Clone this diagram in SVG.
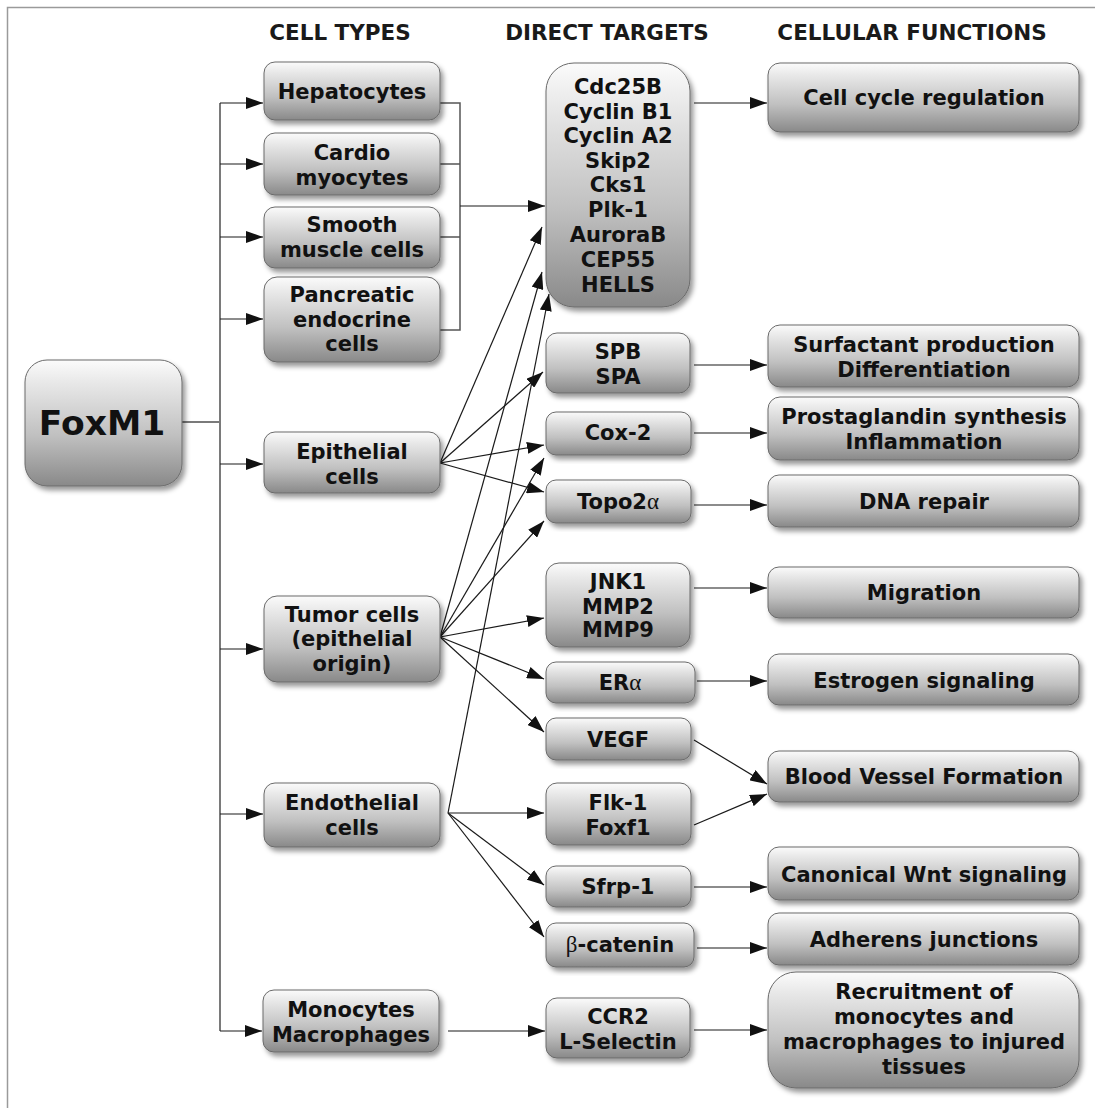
<svg xmlns="http://www.w3.org/2000/svg" width="1095" height="1108" viewBox="0 0 1095 1108">
<defs>
<linearGradient id="g" x1="0" y1="0" x2="0" y2="1">
<stop offset="0" stop-color="#fbfbfb"/>
<stop offset="0.18" stop-color="#e8e8e8"/>
<stop offset="0.6" stop-color="#c0c0c0"/>
<stop offset="1" stop-color="#898989"/>
</linearGradient>
<filter id="sh" x="-10%" y="-10%" width="125%" height="130%">
<feDropShadow dx="3" dy="4" stdDeviation="2.5" flood-color="#000" flood-opacity="0.4"/>
</filter>
<marker id="ah" markerWidth="17" markerHeight="12" refX="17" refY="6" orient="auto" markerUnits="userSpaceOnUse">
<path d="M0,0 L17,6 L0,12 z" fill="#111"/>
</marker>
</defs>
<style>
.n{fill:url(#g);stroke:#6a6a6a;stroke-width:1;filter:url(#sh)}
.t{font-family:"DejaVu Sans","Verdana",sans-serif;font-weight:bold;font-size:21px;fill:#111;text-anchor:middle}
.h{font-family:"DejaVu Sans","Verdana",sans-serif;font-weight:bold;font-size:21.5px;fill:#1a1a1a;text-anchor:middle}
.gr{font-family:"Liberation Serif",serif;font-weight:normal}
.c{stroke:#1a1a1a;stroke-width:1.2;fill:none;marker-end:url(#ah)}
.tr{stroke:#7a7a7a;stroke-width:2;fill:none}
.br{stroke:#555;stroke-width:1.5;fill:none}
</style>
<rect width="1095" height="1108" fill="#fff"/>
<path d="M7.5,1108 V7.5 H1095" fill="none" stroke="#9a9a9a" stroke-width="1.5"/>

<text class="h" x="340" y="40">CELL TYPES</text>
<text class="h" x="607" y="40">DIRECT TARGETS</text>
<text class="h" x="912" y="40">CELLULAR FUNCTIONS</text>

<g id="connectors">
<path class="tr" d="M182,422 H220 M220,103 V1031"/>
<path class="c" d="M220,103 H263"/>
<path class="c" d="M220,164 H263"/>
<path class="c" d="M220,237 H263"/>
<path class="c" d="M220,319 H263"/>
<path class="c" d="M220,464 H263"/>
<path class="c" d="M220,649 H263"/>
<path class="c" d="M220,814 H263"/>
<path class="c" d="M220,1031 H262"/>
<path class="br" d="M440,103 H460 V330 H440 M440,164 H460 M440,237 H460"/>
<path class="c" d="M460,206 H545"/>
<path class="c" d="M440,463 L542,227"/>
<path class="c" d="M440,463 L543,372"/>
<path class="c" d="M440,463 L544,445"/>
<path class="c" d="M440,463 L544,492"/>
<path class="c" d="M440,637 L542,272"/>
<path class="c" d="M440,637 L544,458"/>
<path class="c" d="M440,637 L544,521"/>
<path class="c" d="M440,637 L544,618"/>
<path class="c" d="M440,637 L544,679"/>
<path class="c" d="M440,637 L544,732"/>
<path class="c" d="M448,813 L549,294"/>
<path class="c" d="M448,813 L544,813"/>
<path class="c" d="M448,813 L544,885"/>
<path class="c" d="M448,813 L544,937"/>
<path class="c" d="M448,1031 H545"/>
<path class="c" d="M694,103 H767"/>
<path class="c" d="M694,365 H767"/>
<path class="c" d="M694,433 H767"/>
<path class="c" d="M694,505 H767"/>
<path class="c" d="M694,588 H767"/>
<path class="c" d="M697,681 H767"/>
<path class="c" d="M694,740 L767,784"/>
<path class="c" d="M694,825 L767,794"/>
<path class="c" d="M694,887 H767"/>
<path class="c" d="M697,948 H767"/>
<path class="c" d="M694,1030 H767"/>
</g>

<g id="foxm1"><rect class="n" x="25" y="360" width="157" height="126" rx="22"/><text class="t" x="102" y="435" style="font-size:34.5px">FoxM1</text></g>

<g id="hepatocytes"><rect class="n" x="264" y="62" width="176" height="58" rx="11"/><text class="t" x="352" y="99">Hepatocytes</text></g>
<g id="cardiomyocytes"><rect class="n" x="264" y="133" width="176" height="62" rx="11"/><text class="t" x="352" y="160">Cardio</text><text class="t" x="352" y="185">myocytes</text></g>
<g id="smooth"><rect class="n" x="264" y="207" width="176" height="61" rx="11"/><text class="t" x="352" y="232">Smooth</text><text class="t" x="352" y="257">muscle cells</text></g>
<g id="pancreatic"><rect class="n" x="264" y="277" width="176" height="85" rx="13"/><text class="t" x="352" y="302">Pancreatic</text><text class="t" x="352" y="327">endocrine</text><text class="t" x="352" y="351">cells</text></g>
<g id="epithelial"><rect class="n" x="264" y="432" width="176" height="61" rx="11"/><text class="t" x="352" y="459">Epithelial</text><text class="t" x="352" y="484">cells</text></g>
<g id="tumor"><rect class="n" x="264" y="596" width="176" height="86" rx="13"/><text class="t" x="352" y="622">Tumor cells</text><text class="t" x="352" y="646">(epithelial</text><text class="t" x="352" y="671">origin)</text></g>
<g id="endothelial"><rect class="n" x="264" y="783" width="176" height="64" rx="11"/><text class="t" x="352" y="810">Endothelial</text><text class="t" x="352" y="835">cells</text></g>
<g id="monocytes"><rect class="n" x="263" y="990" width="176" height="62" rx="11"/><text class="t" x="351" y="1017">Monocytes</text><text class="t" x="351" y="1042">Macrophages</text></g>

<g id="cdc"><rect class="n" x="546" y="63" width="144" height="244" rx="28"/>
<text class="t" x="618" y="94">Cdc25B</text><text class="t" x="618" y="119">Cyclin B1</text><text class="t" x="618" y="143">Cyclin A2</text><text class="t" x="618" y="168">Skip2</text><text class="t" x="618" y="192">Cks1</text><text class="t" x="618" y="217">Plk-1</text><text class="t" x="618" y="242">AuroraB</text><text class="t" x="618" y="267">CEP55</text><text class="t" x="618" y="292">HELLS</text></g>
<g id="spb"><rect class="n" x="546" y="333" width="144" height="60" rx="11"/><text class="t" x="618" y="359">SPB</text><text class="t" x="618" y="384">SPA</text></g>
<g id="cox2"><rect class="n" x="546" y="412" width="145" height="43" rx="10"/><text class="t" x="618" y="440">Cox-2</text></g>
<g id="topo"><rect class="n" x="546" y="480" width="145" height="43" rx="10"/><text class="t" x="618" y="509">Topo2<tspan class="gr" style="font-size:23px">α</tspan></text></g>
<g id="jnk1"><rect class="n" x="546" y="563" width="144" height="84" rx="13"/><text class="t" x="618" y="589">JNK1</text><text class="t" x="618" y="614">MMP2</text><text class="t" x="618" y="637">MMP9</text></g>
<g id="era"><rect class="n" x="546" y="662" width="149" height="41" rx="10"/><text class="t" x="620" y="690">ER<tspan class="gr" style="font-size:23px">α</tspan></text></g>
<g id="vegf"><rect class="n" x="546" y="718" width="145" height="42" rx="10"/><text class="t" x="618" y="747">VEGF</text></g>
<g id="flk1"><rect class="n" x="546" y="783" width="145" height="62" rx="11"/><text class="t" x="618" y="810">Flk-1</text><text class="t" x="618" y="835">Foxf1</text></g>
<g id="sfrp1"><rect class="n" x="546" y="866" width="145" height="41" rx="10"/><text class="t" x="618" y="894">Sfrp-1</text></g>
<g id="bcat"><rect class="n" x="546" y="923" width="148" height="44" rx="10"/><text class="t" x="620" y="952"><tspan class="gr" style="font-size:23px">β</tspan>-catenin</text></g>
<g id="ccr2"><rect class="n" x="546" y="998" width="144" height="60" rx="11"/><text class="t" x="618" y="1024">CCR2</text><text class="t" x="618" y="1049">L-Selectin</text></g>

<g id="cellcycle"><rect class="n" x="768" y="63" width="311" height="69" rx="12"/><text class="t" x="924" y="105">Cell cycle regulation</text></g>
<g id="surfactant"><rect class="n" x="768" y="325" width="311" height="62" rx="12"/><text class="t" x="924" y="352">Surfactant production</text><text class="t" x="924" y="377">Differentiation</text></g>
<g id="prostaglandin"><rect class="n" x="768" y="397" width="311" height="63" rx="12"/><text class="t" x="924" y="424">Prostaglandin synthesis</text><text class="t" x="924" y="449">Inflammation</text></g>
<g id="dnarepair"><rect class="n" x="768" y="475" width="311" height="52" rx="11"/><text class="t" x="924" y="509">DNA repair</text></g>
<g id="migration"><rect class="n" x="768" y="567" width="311" height="51" rx="11"/><text class="t" x="924" y="600">Migration</text></g>
<g id="estrogen"><rect class="n" x="768" y="654" width="311" height="51" rx="11"/><text class="t" x="924" y="688">Estrogen signaling</text></g>
<g id="blood"><rect class="n" x="768" y="751" width="311" height="51" rx="11"/><text class="t" x="924" y="784">Blood Vessel Formation</text></g>
<g id="wnt"><rect class="n" x="768" y="847" width="311" height="53" rx="11"/><text class="t" x="924" y="882">Canonical Wnt signaling</text></g>
<g id="adherens"><rect class="n" x="768" y="913" width="311" height="52" rx="11"/><text class="t" x="924" y="947">Adherens junctions</text></g>
<g id="recruitment"><rect class="n" x="768" y="972" width="311" height="116" rx="28"/><text class="t" x="924" y="999">Recruitment of</text><text class="t" x="924" y="1024">monocytes and</text><text class="t" x="924" y="1049">macrophages to injured</text><text class="t" x="924" y="1074">tissues</text></g>
</svg>
